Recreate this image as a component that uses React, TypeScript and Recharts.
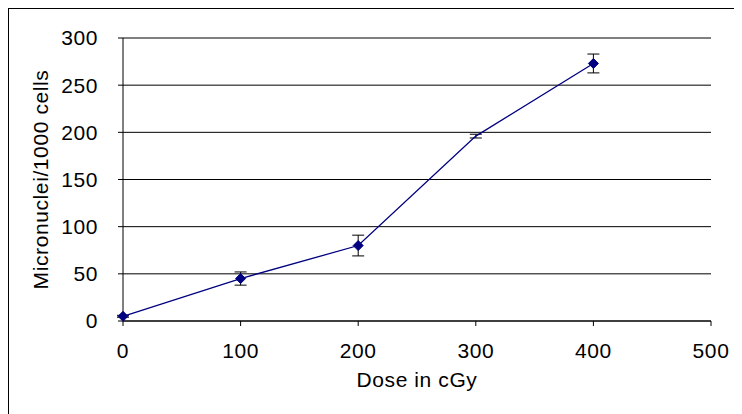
import * as React from "react";
import {
  LineChart,
  Line,
  XAxis,
  YAxis,
  CartesianGrid,
  ErrorBar,
} from "recharts";

const doses = [0, 100, 200, 300, 400];
const micronuclei = [5, 45, 80, 196, 273];
const errors = [1, 7, 11, 2, 10];
const hasMarker = [true, true, true, false, true];
const xTicks = [0, 100, 200, 300, 400, 500];
const yTicks = [0, 50, 100, 150, 200, 250, 300];

const data = doses.map((d, i) => ({
  dose: d,
  mn: micronuclei[i],
  err: errors[i],
  marker: hasMarker[i],
}));

const NAVY = "#000080";
const FONT = "'Liberation Sans', Arial, sans-serif";
const textStyle = { fill: "#000", fontSize: 21, fontFamily: FONT, letterSpacing: 0.6 };

const Diamond = (props: any) => {
  const { cx, cy, payload, index } = props;
  if (!payload?.marker) return <g key={`d${index}`} />;
  const r = 5;
  return (
    <polygon
      key={`d${index}`}
      points={`${cx},${cy - r} ${cx + r},${cy} ${cx},${cy + r} ${cx - r},${cy}`}
      fill={NAVY}
      stroke={NAVY}
    />
  );
};

export default function App() {
  return (
    <div
      style={{
        width: 732,
        height: 420,
        border: "1px solid #000",
        background: "#fff",
      }}
    >
      <LineChart
        width={732}
        height={410}
        data={data}
        margin={{ top: 29, right: 30, left: 50, bottom: 38 }}
      >
        <CartesianGrid vertical={false} stroke="#000" strokeWidth={1} />
        <XAxis
          dataKey="dose"
          type="number"
          domain={[0, 500]}
          ticks={xTicks}
          tickSize={5}
          tickMargin={17}
          stroke="#000"
          height={60}
          tick={textStyle}
          label={{
            value: "Dose in cGy",
            position: "insideBottom",
            offset: -6,
            ...textStyle,
          }}
        />
        <YAxis
          domain={[0, 300]}
          ticks={yTicks}
          tickSize={5}
          tickMargin={20}
          stroke="#000"
          width={64}
          tick={textStyle}
          label={{
            value: "Micronuclei/1000 cells",
            angle: -90,
            position: "insideLeft",
            offset: -18,
            style: { textAnchor: "middle" },
            ...textStyle,
          }}
        />
        <Line
          dataKey="mn"
          stroke={NAVY}
          strokeWidth={1.3}
          dot={<Diamond />}
          activeDot={false}
          isAnimationActive={false}
        >
          <ErrorBar dataKey="err" width={6} stroke="#000" strokeWidth={1} direction="y" />
        </Line>
      </LineChart>
    </div>
  );
}
